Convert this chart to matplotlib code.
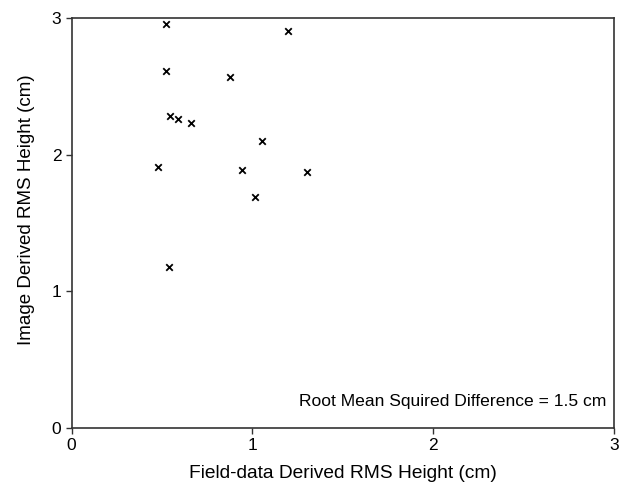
import matplotlib
matplotlib.use('Agg')
import matplotlib.pyplot as plt

plt.rcParams['font.family'] = ['Liberation Sans', 'DejaVu Sans']

# field-data derived vs image derived RMS height (cm)
field_rms = [0.522, 1.196, 0.522, 0.877, 0.546, 0.590, 0.662, 1.052, 0.476, 0.943, 1.303, 1.015, 0.539]
image_rms = [2.96, 2.905, 2.613, 2.572, 2.282, 2.263, 2.231, 2.100, 1.910, 1.888, 1.871, 1.688, 1.178]
ticks = [0, 1, 2, 3]
note = 'Root Mean Squired Difference = 1.5 cm'

fig = plt.figure(figsize=(6.26, 4.88), dpi=100)
ax = fig.add_axes([0.1145, 0.123, 0.8665, 0.84])

ax.scatter(field_rms, image_rms, marker='x', color='black', s=22, linewidths=1.3, clip_on=False)

ax.set_xlim(0, 3)
ax.set_ylim(0, 3)
ax.set_xticks(ticks)
ax.set_yticks(ticks)
ax.tick_params(direction='out', length=4, width=1, labelsize=12.5, color='#333333')
for s in ax.spines.values():
    s.set_linewidth(1.2)
    s.set_color('#333333')

ax.set_xlabel('Field-data Derived RMS Height (cm)', fontsize=13.8, labelpad=8)
ax.set_ylabel('Image Derived RMS Height (cm)', fontsize=13.5)
ax.yaxis.set_label_coords(-0.068, 0.532)

ax.text(0.985, 0.065, note, transform=ax.transAxes, ha='right', va='center', fontsize=12.6)

fig.savefig('out.png', dpi=100)
